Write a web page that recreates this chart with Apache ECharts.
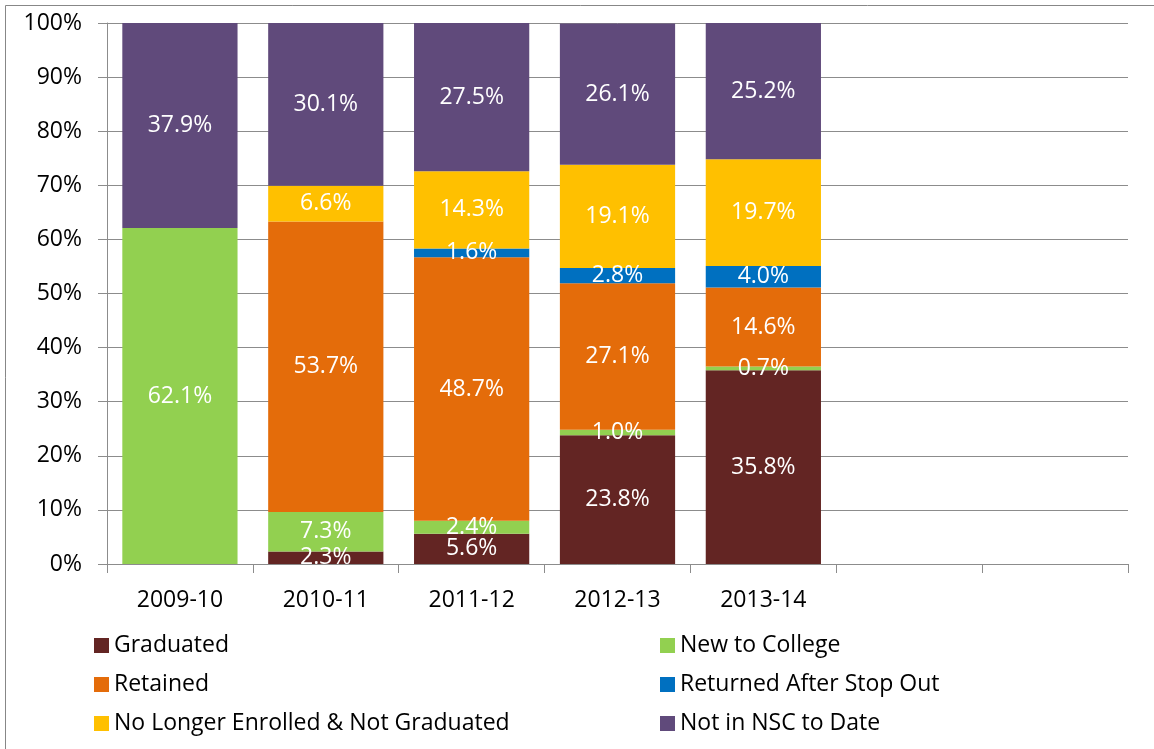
<!DOCTYPE html>
<html>
<head>
<meta charset="utf-8">
<script src="https://cdn.jsdelivr.net/npm/echarts@6/dist/echarts.min.js"></script>
<style>
  html, body { margin: 0; padding: 0; background: #fff; }
  #chart { width: 1154px; height: 749px; }
</style>
</head>
<body>
<div id="chart"></div>
<script>
const categories = ['2009-10', '2010-11', '2011-12', '2012-13', '2013-14', '', ''];
const yTicks = [0, 10, 20, 30, 40, 50, 60, 70, 80, 90, 100];

const graduated = [null, 2.3, 5.6, 23.8, 35.8];
const newToCollege = [62.1, 7.3, 2.4, 1.0, 0.7];
const retained = [null, 53.7, 48.7, 27.1, 14.6];
const returnedAfterStopOut = [null, null, 1.6, 2.8, 4.0];
const noLongerEnrolled = [null, 6.6, 14.3, 19.1, 19.7];
const notInNsc = [37.9, 30.1, 27.5, 26.1, 25.2];

const seriesDefs = [
  { name: 'Graduated', data: graduated, color: '#632523' },
  { name: 'New to College', data: newToCollege, color: '#92d050' },
  { name: 'Retained', data: retained, color: '#e46c0a' },
  { name: 'Returned After Stop Out', data: returnedAfterStopOut, color: '#0070c0' },
  { name: 'No Longer Enrolled & Not Graduated', data: noLongerEnrolled, color: '#ffc000' },
  { name: 'Not in NSC to Date', data: notInNsc, color: '#604a7b' }
];

const font = '"Open Sans", "Liberation Sans", sans-serif';
const gridColor = '#8c8c8c';

const chart = echarts.init(document.getElementById('chart'));

const legendBase = {
  orient: 'vertical',
  top: 634,
  padding: 0,
  itemWidth: 15,
  itemHeight: 15,
  itemGap: 16,
  icon: 'rect',
  selectedMode: false,
  textStyle: { fontFamily: font, fontSize: 23, color: '#000' }
};

chart.setOption({
  animation: false,
  backgroundColor: '#fff',
  textStyle: { fontFamily: font },
  graphic: [
    {
      type: 'rect',
      shape: { x: 5.5, y: 5.5, width: 1200, height: 800 },
      style: { fill: 'none', stroke: '#878787', lineWidth: 1 },
      silent: true
    }
  ],
  legend: [
    Object.assign({}, legendBase, {
      left: 94,
      data: ['Graduated', 'Retained', 'No Longer Enrolled & Not Graduated']
    }),
    Object.assign({}, legendBase, {
      left: 660,
      data: ['New to College', 'Returned After Stop Out', 'Not in NSC to Date']
    })
  ],
  grid: { left: 107, right: 26, top: 23, bottom: 185, containLabel: false },
  xAxis: {
    type: 'category',
    data: categories,
    axisLine: { lineStyle: { color: gridColor, width: 1 } },
    axisTick: { show: true, length: 9, lineStyle: { color: gridColor } },
    axisLabel: { fontFamily: font, fontSize: 23, color: '#000', margin: 25 }
  },
  yAxis: {
    type: 'value',
    min: 0,
    max: 100,
    interval: 10,
    axisLine: { show: true, lineStyle: { color: gridColor } },
    axisTick: { show: true, length: 9, lineStyle: { color: gridColor } },
    splitLine: { lineStyle: { color: gridColor, width: 1 } },
    axisLabel: {
      fontFamily: font,
      fontSize: 23,
      color: '#000',
      margin: 25,
      formatter: (v) => (yTicks.includes(v) ? v + '%' : '')
    }
  },
  series: seriesDefs.map((s) => ({
    name: s.name,
    type: 'bar',
    stack: 'total',
    barWidth: '79%',
    data: s.data,
    itemStyle: { color: s.color },
    label: {
      show: true,
      position: 'inside',
      color: '#fff',
      fontFamily: font,
      fontSize: 23,
      formatter: (p) => (p.value == null ? '' : p.value.toFixed(1) + '%')
    }
  }))
});
</script>
</body>
</html>
